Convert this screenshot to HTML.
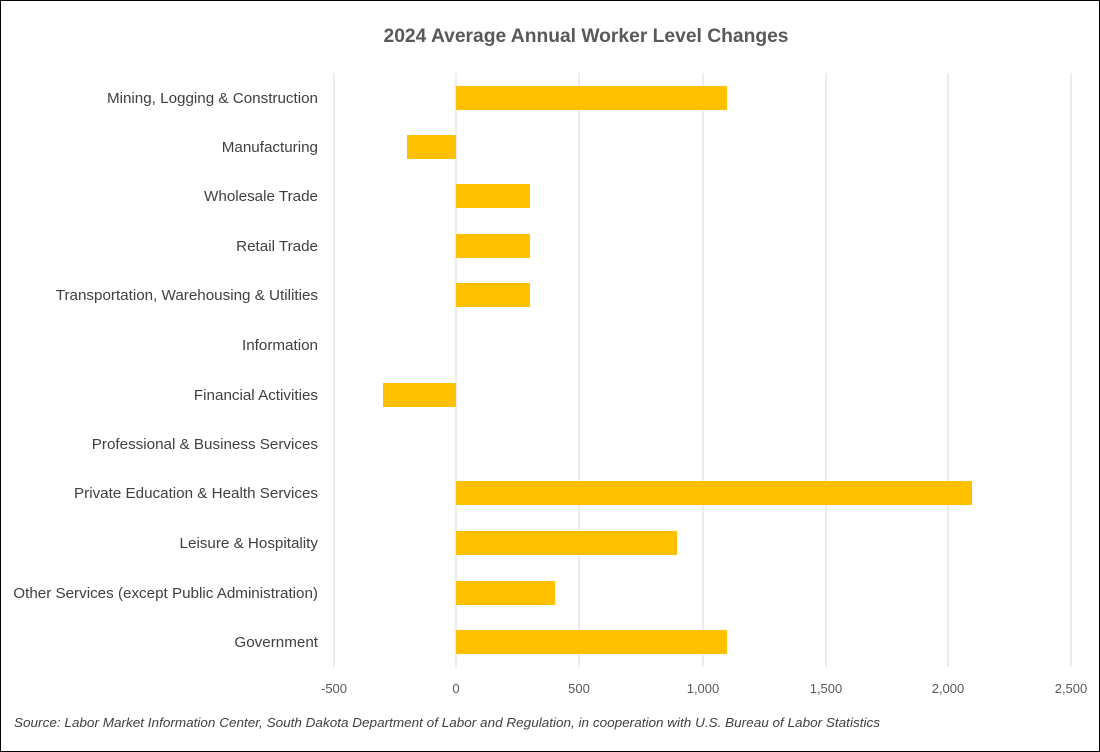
<!DOCTYPE html>
<html><head><meta charset="utf-8"><style>
html,body{margin:0;padding:0;background:#fff;}
svg{display:block;font-family:"Liberation Sans",Calibri,sans-serif;}
</style></head><body>
<svg width="1100" height="752" viewBox="0 0 1100 752" xmlns="http://www.w3.org/2000/svg">
<rect x="0.5" y="0.5" width="1099" height="751" fill="#fff" stroke="#000" stroke-width="1"/>
<text x="586" y="42" text-anchor="middle" font-size="19" font-weight="bold" fill="#595959" textLength="405" lengthAdjust="spacingAndGlyphs">2024 Average Annual Worker Level Changes</text>
<g stroke="#d9d9d9" stroke-width="1">
<line x1="334" y1="73" x2="334" y2="667"/>
<line x1="456" y1="73" x2="456" y2="667"/>
<line x1="579" y1="73" x2="579" y2="667"/>
<line x1="703" y1="73" x2="703" y2="667"/>
<line x1="826" y1="73" x2="826" y2="667"/>
<line x1="948" y1="73" x2="948" y2="667"/>
<line x1="1071" y1="73" x2="1071" y2="667"/>
</g>
<g fill="#ffc000">
<rect x="456" y="86" width="271" height="24"/>
<rect x="407" y="135" width="49" height="24"/>
<rect x="456" y="184" width="74" height="24"/>
<rect x="456" y="234" width="74" height="24"/>
<rect x="456" y="283" width="74" height="24"/>
<rect x="383" y="383" width="73" height="24"/>
<rect x="456" y="481" width="516" height="24"/>
<rect x="456" y="531" width="221" height="24"/>
<rect x="456" y="581" width="99" height="24"/>
<rect x="456" y="630" width="271" height="24"/>
</g>
<g font-size="15.2" fill="#404040" text-anchor="end">
<text x="318" y="103">Mining, Logging &amp; Construction</text>
<text x="318" y="152">Manufacturing</text>
<text x="318" y="201">Wholesale Trade</text>
<text x="318" y="251">Retail Trade</text>
<text x="318" y="300">Transportation, Warehousing &amp; Utilities</text>
<text x="318" y="350">Information</text>
<text x="318" y="400">Financial Activities</text>
<text x="318" y="449">Professional &amp; Business Services</text>
<text x="318" y="498">Private Education &amp; Health Services</text>
<text x="318" y="548">Leisure &amp; Hospitality</text>
<text x="318" y="598">Other Services (except Public Administration)</text>
<text x="318" y="647">Government</text>
</g>
<g font-size="13" fill="#595959" text-anchor="middle">
<text x="334" y="693">-500</text>
<text x="456" y="693">0</text>
<text x="579" y="693">500</text>
<text x="703" y="693">1,000</text>
<text x="826" y="693">1,500</text>
<text x="948" y="693">2,000</text>
<text x="1071" y="693">2,500</text>
</g>
<text x="14" y="727" font-size="12.5" font-style="italic" fill="#404040" textLength="866" lengthAdjust="spacingAndGlyphs">Source: Labor Market Information Center, South Dakota Department of Labor and Regulation, in cooperation with U.S. Bureau of Labor Statistics</text>
</svg>
</body></html>
